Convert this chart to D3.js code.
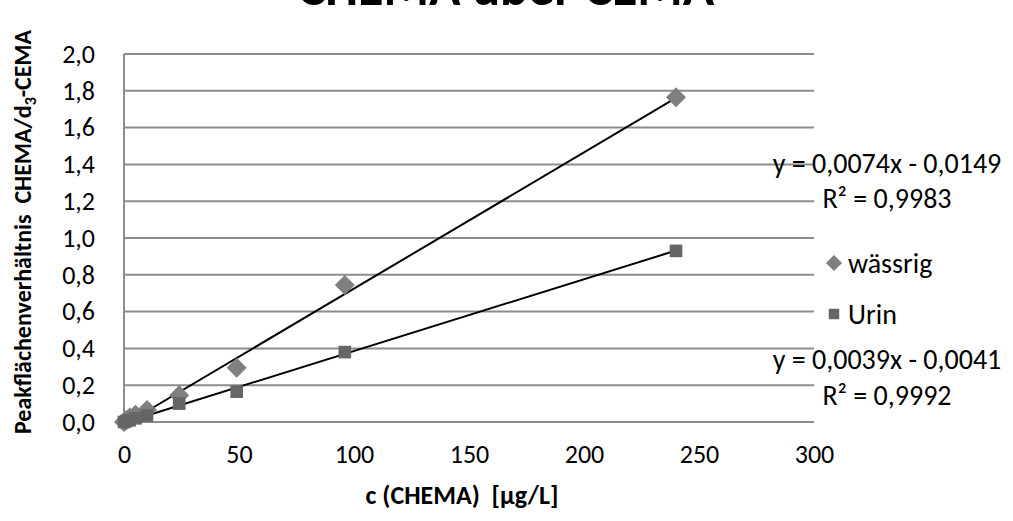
<!DOCTYPE html>
<html lang="de">
<head>
<meta charset="UTF-8">
<script src="https://d3js.org/d3.v7.min.js"></script>
<style>
  body { margin: 0; background: #fff; }
  svg { display: block; font-family: Calibri, Carlito, "Open Sans", sans-serif; }
</style>
</head>
<body>
<div id="chart"></div>
<script>
// concentrations [µg/L]
const conc = [0, 1, 2.5, 5, 10, 24, 49, 96, 240];
// peak area ratios
const waessrig = [0, 0.01, 0.025, 0.04, 0.065, 0.145, 0.295, 0.745, 1.765];
const urin = [0, 0.005, 0.01, 0.02, 0.035, 0.10, 0.165, 0.38, 0.93];
const yTicks = [0, 0.2, 0.4, 0.6, 0.8, 1.0, 1.2, 1.4, 1.6, 1.8, 2.0];
const xTicks = [0, 50, 100, 150, 200, 250, 300];
const fits = [
  {slope: 0.0074, icpt: -0.0149, eq: "y = 0,0074x - 0,0149", r2: "0,9983"},
  {slope: 0.0039, icpt: -0.0041, eq: "y = 0,0039x - 0,0041", r2: "0,9992"}
];

const w = 1013, h = 521;
const padL = 124, padR = 814, padT = 54, padB = 422;

const svg = d3.select("#chart").append("svg")
  .attr("width", w).attr("height", h);

const x = d3.scaleLinear().domain([0, 300]).range([padL, padR]);
const y = d3.scaleLinear().domain([0, 2]).range([padB, padT]);

// gridlines
svg.append("g").selectAll("line")
  .data(yTicks)
  .enter().append("line")
  .attr("x1", padL).attr("x2", padR)
  .attr("y1", d => y(d)).attr("y2", d => y(d))
  .attr("stroke", "#8c8c8c").attr("stroke-width", 2);
svg.append("line")
  .attr("x1", padL).attr("x2", padL)
  .attr("y1", padT).attr("y2", padB)
  .attr("stroke", "#8c8c8c").attr("stroke-width", 2);

// axes (labels only)
const fmt = d => d3.format(".1f")(d).replace(".", ",");
const yAxis = svg.append("g")
  .attr("transform", "translate(" + (padL - 26) + ",0)")
  .call(d3.axisLeft(y).tickValues(yTicks).tickFormat(fmt).tickSize(0));
const xAxis = svg.append("g")
  .attr("transform", "translate(0," + (padB + 20) + ")")
  .call(d3.axisBottom(x).tickValues(xTicks).tickFormat(d3.format("d")).tickSize(0));
[xAxis, yAxis].forEach(a => {
  a.select(".domain").remove();
  a.selectAll("text").attr("font-size", 26).attr("fill", "#000")
    .style("font-family", "Calibri, Carlito, 'Open Sans', sans-serif");
});

// trendlines
fits.forEach((f, i) => {
  const xmax = d3.max(conc);
  svg.append("line")
    .attr("x1", x(0)).attr("y1", y(f.icpt))
    .attr("x2", x(xmax)).attr("y2", y(f.slope * xmax + f.icpt))
    .attr("stroke", "#000").attr("stroke-width", 2);
});

// markers
const diamond = d3.symbol().type(d3.symbolSquare).size(200);
const square = d3.symbol().type(d3.symbolSquare).size(160);
svg.append("g").selectAll("path")
  .data(conc.map((c, i) => [c, waessrig[i]]))
  .enter().append("path")
  .attr("d", diamond)
  .attr("transform", d => "translate(" + x(d[0]) + "," + y(d[1]) + ") rotate(45)")
  .attr("fill", "#7f7f7f");
svg.append("g").selectAll("path")
  .data(conc.map((c, i) => [c, urin[i]]))
  .enter().append("path")
  .attr("d", square)
  .attr("transform", d => "translate(" + x(d[0]) + "," + y(d[1]) + ")")
  .attr("fill", "#666");

// trendline labels
const eqY = [[173, 208], [369, 405]];
fits.forEach((f, i) => {
  svg.append("text").text(f.eq)
    .attr("x", 887).attr("y", eqY[i][0])
    .attr("text-anchor", "middle").attr("font-size", 28);
  svg.append("text").text("R² = " + f.r2)
    .attr("x", 887).attr("y", eqY[i][1])
    .attr("text-anchor", "middle").attr("font-size", 28);
});

// legend
const legend = svg.append("g");
legend.append("path").attr("d", d3.symbol().type(d3.symbolSquare).size(130))
  .attr("transform", "translate(834,263) rotate(45)").attr("fill", "#7f7f7f");
legend.append("path").attr("d", d3.symbol().type(d3.symbolSquare).size(110))
  .attr("transform", "translate(834,314)").attr("fill", "#666");
legend.append("text").text("wässrig").attr("x", 848).attr("y", 273).attr("font-size", 28);
legend.append("text").text("Urin").attr("x", 848).attr("y", 324).attr("font-size", 28);

// titles
svg.append("text").text("CHEMA über CEMA")
  .attr("x", 506).attr("y", 5)
  .attr("text-anchor", "middle").attr("font-size", 52).attr("font-weight", "bold");
svg.append("text").text("c (CHEMA)  [µg/L]")
  .attr("x", 462).attr("y", 504)
  .attr("text-anchor", "middle").attr("font-size", 26).attr("font-weight", "bold")
  .attr("xml:space", "preserve");
const yt = svg.append("text")
  .attr("transform", "translate(31,232) rotate(-90)")
  .attr("text-anchor", "middle").attr("font-size", 24).attr("font-weight", "bold")
  .attr("xml:space", "preserve");
yt.append("tspan").text("Peakflächenverhältnis  CHEMA/d");
yt.append("tspan").text("3").attr("font-size", 16).attr("dy", 5);
yt.append("tspan").text("-CEMA").attr("dy", -5);
</script>
</body>
</html>
